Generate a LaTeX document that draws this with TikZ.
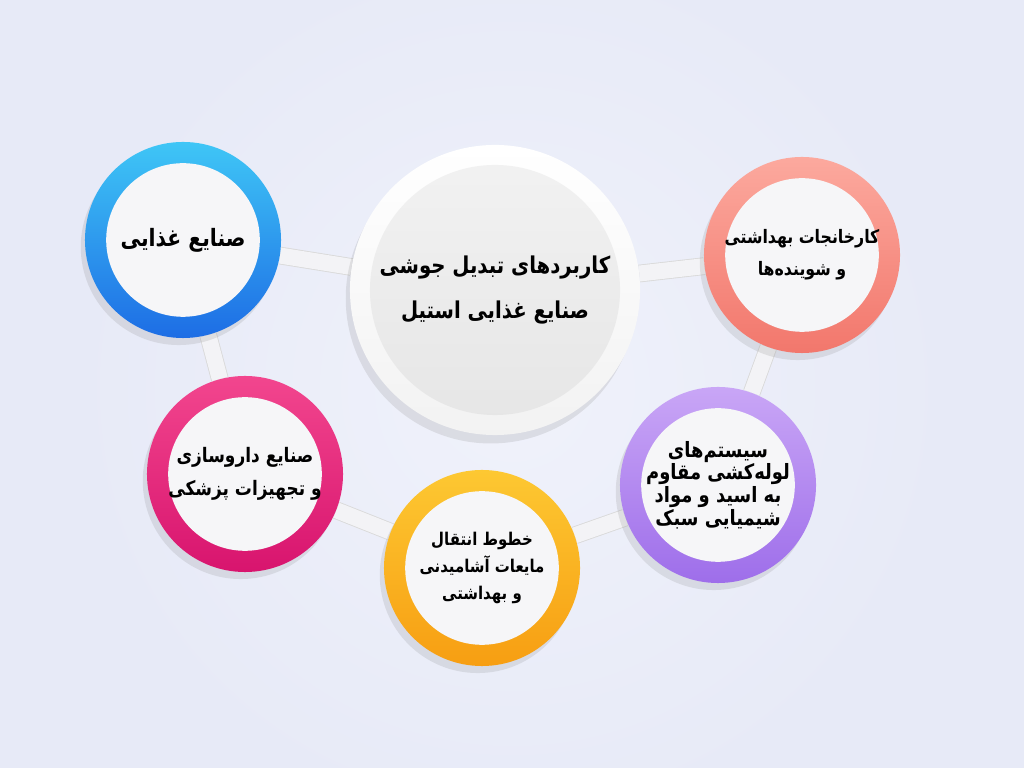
\documentclass[tikz,border=0pt]{standalone}
\usepackage{fontspec}
\newfontfamily\fafont[Script=Arabic, FakeStretch=0.85]{DejaVu Sans}
\TeXXeTstate=1
\usetikzlibrary{shadows}

\newcommand{\fa}[1]{\beginR #1\endR}

\definecolor{bgcol}{HTML}{E7EAF7}
\definecolor{bglight}{HTML}{F0F2FB}
\definecolor{bubblein}{HTML}{F6F6F8}
\definecolor{linkcol}{HTML}{F3F3F6}
\definecolor{blue1}{HTML}{3FC6F6}
\definecolor{blue2}{HTML}{1D6DE5}
\definecolor{red1}{HTML}{FCA99E}
\definecolor{red2}{HTML}{F2776C}
\definecolor{pur1}{HTML}{C9A6F6}
\definecolor{pur2}{HTML}{9E6EEA}
\definecolor{org1}{HTML}{FDC832}
\definecolor{org2}{HTML}{F79E12}
\definecolor{pink1}{HTML}{F2468E}
\definecolor{pink2}{HTML}{D8146E}

\pgfdeclarelayer{back}
\pgfdeclarelayer{links}
\pgfsetlayers{back,links,main}

\begin{document}
\begin{tikzpicture}[x=0.025cm, y=0.025cm,
        bubble/.style={circle, minimum size=4.9cm, inner sep=0pt, align=center,
            drop shadow={opacity=0.18, shadow xshift=-3pt, shadow yshift=-5pt},
            path picture={\fill[bubblein] (path picture bounding box.center) circle (1.92cm);}},
        link/.style={draw=gray!30, line width=0.6pt, double=linkcol, double distance=0.4cm}]
    \useasboundingbox (0,0) rectangle (1024,768);

    % middle
    \node[circle, minimum size=7.25cm, inner sep=0pt, align=center,
        top color=white, bottom color=gray!10,
        drop shadow={opacity=0.18, shadow xshift=-3pt, shadow yshift=-6pt},
        path picture={\shade[top color=gray!10, bottom color=gray!20]
            (path picture bounding box.center) circle (3.125cm);},
        font=\fafont\bfseries\fontsize{16.5}{32}\selectfont] (main) at (495,478)
        {\fa{کاربردهای تبدیل جوشی}\\ \fa{صنایع غذایی استیل}};

    % around
    \node[bubble, top color=blue1, bottom color=blue2,
        font=\fafont\bfseries\fontsize{17}{20}\selectfont] (food) at (183,528)
        {\fa{صنایع غذایی}};
    \node[bubble, top color=red1, bottom color=red2,
        font=\fafont\bfseries\fontsize{13.2}{23}\selectfont] (sanit) at (802,513)
        {\fa{کارخانجات بهداشتی}\\ \fa{و شوینده‌ها}};
    \node[bubble, top color=pur1, bottom color=pur2,
        font=\fafont\bfseries\fontsize{15}{13.5}\selectfont] (pipe) at (718,283)
        {\fa{سیستم‌های}\\ \fa{لوله‌کشی مقاوم}\\ \fa{به اسید و مواد}\\ \fa{شیمیایی سبک}};
    \node[bubble, top color=org1, bottom color=org2,
        font=\fafont\bfseries\fontsize{12.5}{19}\selectfont] (drink) at (482,200)
        {\fa{خطوط انتقال}\\ \fa{مایعات آشامیدنی}\\ \fa{و بهداشتی}};
    \node[bubble, top color=pink1, bottom color=pink2,
        font=\fafont\bfseries\fontsize{14.2}{23}\selectfont] (pharma) at (245,294)
        {\fa{صنایع داروسازی}\\ \fa{و تجهیزات پزشکی}};

    \begin{pgfonlayer}{links}
        \foreach \a/\b in {food/main, main/sanit, sanit/pipe, pipe/drink, drink/pharma, pharma/food}
            \draw[link] (\a) -- (\b);
    \end{pgfonlayer}

    \begin{pgfonlayer}{back}
        \fill[bgcol] (0,0) rectangle (1024,768);
        \shade[inner color=bglight, outer color=bgcol] (512,380) circle (11cm);
    \end{pgfonlayer}
\end{tikzpicture}
\end{document}
